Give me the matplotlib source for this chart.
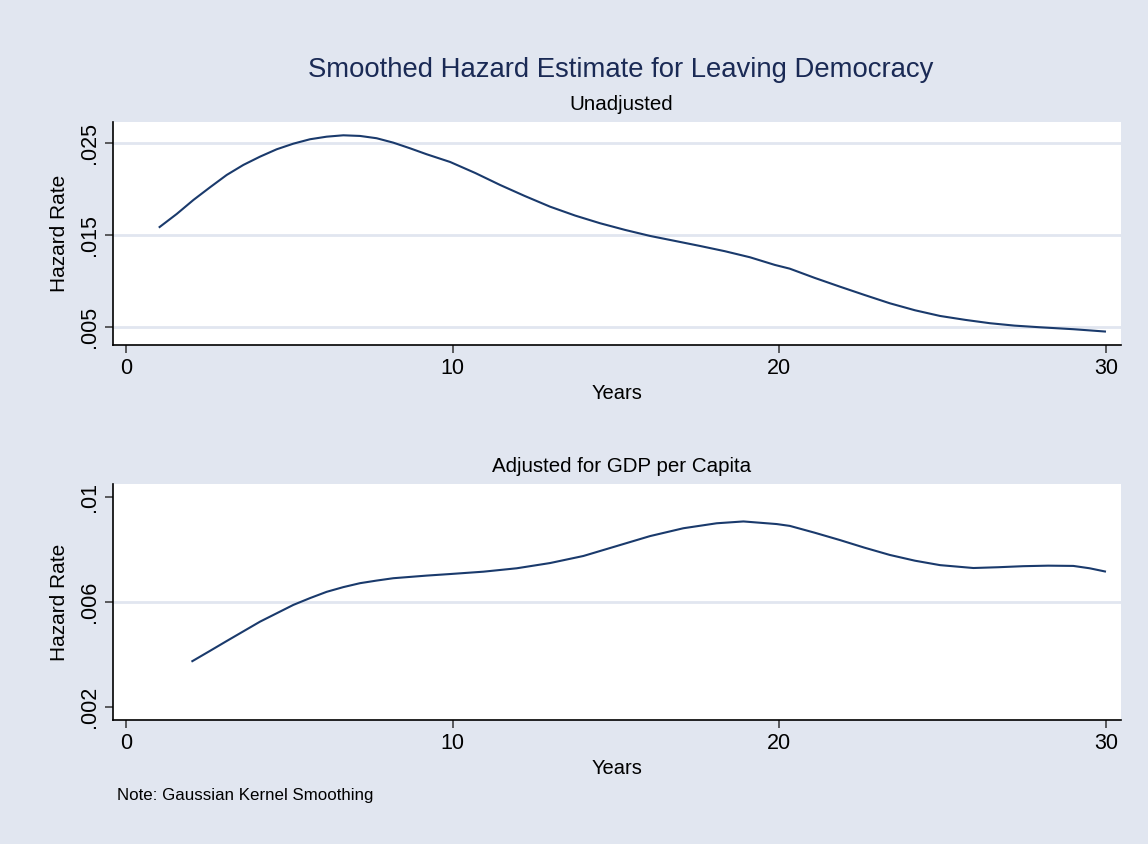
import numpy as np
import matplotlib
matplotlib.use("Agg")
import matplotlib.pyplot as plt

plt.rcParams['font.family'] = ['Liberation Sans', 'DejaVu Sans']

# DATA
years_top = [1.0, 1.55, 2.06, 2.57, 3.08, 3.59, 4.1, 4.61, 5.12, 5.63, 6.14, 6.65,
             7.16, 7.67, 8.18, 8.69, 9.2, 9.92, 10.69, 11.45, 12.2, 12.98, 13.75,
             14.51, 15.28, 16.04, 16.8, 17.57, 18.33, 19.1, 19.86, 20.32, 21.08,
             21.85, 22.6, 23.38, 24.15, 24.92, 25.7, 26.45, 27.2, 27.98, 29.0, 30.0]
hazard_top = [0.01576, 0.01725, 0.01877, 0.02015, 0.02149, 0.02258, 0.02348, 0.02428,
              0.02489, 0.02537, 0.02565, 0.02580, 0.02573, 0.02548, 0.02500, 0.02439,
              0.02374, 0.02290, 0.02170, 0.02040, 0.01921, 0.01804, 0.01707, 0.01624,
              0.01551, 0.01486, 0.01432, 0.01377, 0.01320, 0.01254, 0.01171, 0.01130,
              0.01030, 0.00935, 0.00845, 0.00754, 0.00678, 0.00616, 0.00573, 0.00537,
              0.00511, 0.00493, 0.00472, 0.00446]

years_bot = [2.0, 2.55, 3.08, 3.59, 4.1, 4.61, 5.12, 5.63, 6.14, 6.65, 7.16, 7.67,
             8.18, 9.2, 9.92, 10.94, 11.96, 12.98, 14.0, 15.02, 16.04, 17.06, 18.08,
             18.9, 19.92, 20.32, 21.08, 21.85, 22.6, 23.38, 24.15, 24.92, 25.94, 26.7,
             27.47, 28.23, 29.0, 29.5, 30.0]
hazard_bot = [0.00372, 0.00412, 0.00451, 0.00488, 0.00525, 0.00557, 0.00589, 0.00615,
              0.00639, 0.00657, 0.00672, 0.00682, 0.00691, 0.00701, 0.00707, 0.00716,
              0.00729, 0.00749, 0.00776, 0.00814, 0.00852, 0.00882, 0.00901, 0.00908,
              0.00898, 0.00891, 0.00865, 0.00837, 0.00808, 0.00780, 0.00758, 0.00741,
              0.00730, 0.00733, 0.00737, 0.00739, 0.00738, 0.00729, 0.00716]

xticks = [0, 10, 20, 30]
yticks_top = [0.005, 0.015, 0.025]
ylabels_top = ['.005', '.015', '.025']
yticks_bot = [0.002, 0.006, 0.01]
ylabels_bot = ['.002', '.006', '.01']

# STYLE
bg = '#e1e6f0'
grid_col = '#e1e6f0'
line_col = '#1a3a6c'

fig = plt.figure(figsize=(11.48, 8.44), dpi=100, facecolor=bg)
ax1 = fig.add_axes([0.0982, 0.5912, 0.878, 0.2643])
ax2 = fig.add_axes([0.0982, 0.1469, 0.878, 0.2796])


def style_axes(ax, yticks, ylabels, ylim, hide_edge_grid):
    ax.set_facecolor('white')
    ax.spines['right'].set_visible(False)
    ax.spines['top'].set_visible(False)
    ax.spines['left'].set_linewidth(1.2)
    ax.spines['bottom'].set_linewidth(1.2)
    ax.set_xlim(-0.41, 30.45)
    ax.set_ylim(*ylim)
    ax.set_xticks(xticks)
    ax.set_yticks(yticks)
    ax.set_yticklabels(ylabels, rotation=90, va='center')
    ax.tick_params(axis='both', direction='out', length=6, width=1.1, color='#333333',
                   labelsize=15.5, pad=3)
    ax.set_axisbelow(True)
    # Stata leaves out gridlines that sit on the axis ends
    for i, y in enumerate(yticks):
        if hide_edge_grid and i in (0, len(yticks) - 1):
            continue
        ax.axhline(y, color=grid_col, lw=2, zorder=0)
    ax.set_xlabel('Years', fontsize=14.5, labelpad=4)
    ax.set_ylabel('Hazard Rate', fontsize=15)
    ax.yaxis.set_label_coords(-0.043, 0.5)


style_axes(ax1, yticks_top, ylabels_top, (0.003, 0.02725), False)
style_axes(ax2, yticks_bot, ylabels_bot, (0.00149, 0.01051), True)

ax1.plot(years_top, hazard_top, color=line_col, lw=1.5, solid_capstyle='butt')
ax2.plot(years_bot, hazard_bot, color=line_col, lw=1.5, solid_capstyle='butt')

fig.text(0.541, 0.917, 'Smoothed Hazard Estimate for Leaving Democracy',
         ha='center', va='center', fontsize=19.8, color='#1a2a55')
fig.text(0.541, 0.876, 'Unadjusted', ha='center', va='center', fontsize=14.8)
fig.text(0.541, 0.447, 'Adjusted for GDP per Capita', ha='center', va='center', fontsize=14.8)
fig.text(0.102, 0.058, 'Note: Gaussian Kernel Smoothing', ha='left', va='center', fontsize=12.2)

fig.savefig('out.png', dpi=100, facecolor=bg)
